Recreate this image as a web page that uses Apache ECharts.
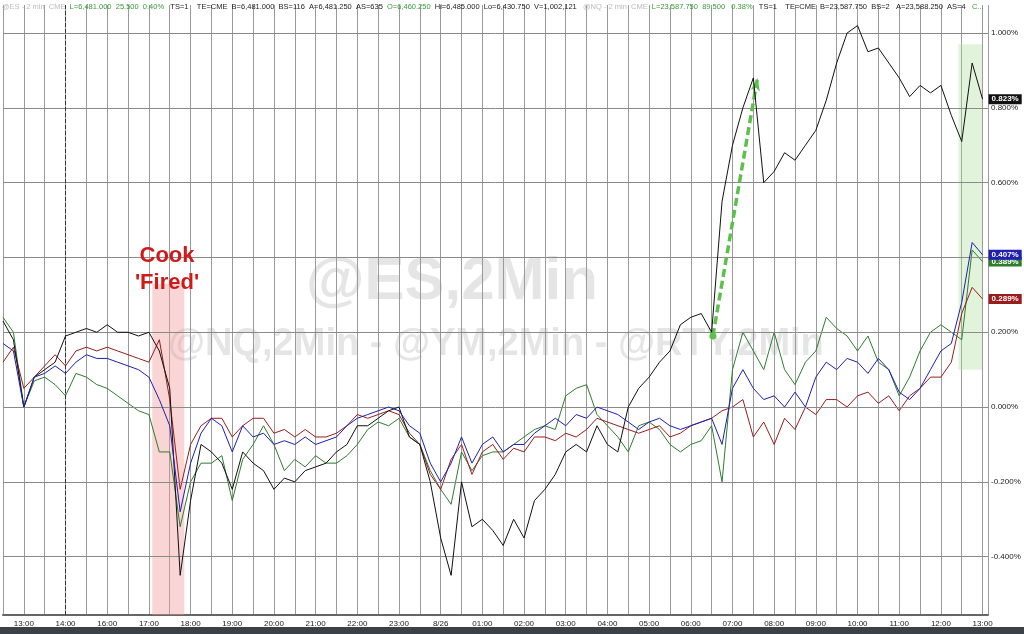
<!DOCTYPE html>
<html>
<head>
<meta charset="utf-8">
<script src="https://cdn.jsdelivr.net/npm/echarts@6/dist/echarts.min.js"></script>
<style>
  html, body { margin: 0; padding: 0; background: #fff; }
  #main { width: 1024px; height: 634px; }
</style>
</head>
<body>
<div id="main"></div>
<script>
// hour slots: 0 = 13:00 ... 23 = 13:00 next day, step 0.25 starting at -0.5
var hourLabels = ['13:00', '14:00', '16:00', '17:00', '18:00', '19:00', '20:00', '21:00', '22:00', '23:00', '8/26',
    '01:00', '02:00', '03:00', '04:00', '05:00', '06:00', '07:00', '08:00', '09:00', '10:00', '11:00', '12:00', '13:00'];
var startSlot = -0.5;
var slotStep = 0.25;
var yTicks = [-0.4, -0.2, 0, 0.2, 0.4, 0.6, 0.8, 1.0];

var blackVals = [0.23, 0.18,
    0.00, 0.08, 0.10, 0.12,
    0.19, 0.20, 0.21, 0.20,
    0.22, 0.20, 0.20, 0.19,
    0.20, 0.15, 0.05, -0.45,
    -0.25, -0.10, -0.12, -0.15,
    -0.22, -0.12, -0.15, -0.17,
    -0.22, -0.19, -0.20, -0.17,
    -0.16, -0.15, -0.12, -0.10,
    -0.05, -0.05, -0.03, -0.01,
    0.00, -0.08, -0.10, -0.20,
    -0.35, -0.45, -0.20, -0.32,
    -0.30, -0.33, -0.37, -0.30,
    -0.35, -0.25, -0.22, -0.18,
    -0.12, -0.10, -0.12, -0.05,
    -0.10, -0.12, 0.00, 0.05,
    0.08, 0.12, 0.15, 0.22,
    0.24, 0.25, 0.20, 0.55,
    0.70, 0.80, 0.88, 0.60,
    0.63, 0.68, 0.66, 0.70,
    0.74, 0.82, 0.92, 1.00,
    1.02, 0.95, 0.96, 0.92,
    0.88, 0.83, 0.86, 0.84,
    0.86, 0.78, 0.71, 0.92,
    0.823];
var blueVals = [0.17, 0.15,
    0.00, 0.08, 0.09, 0.11,
    0.09, 0.12, 0.14, 0.13,
    0.13, 0.12, 0.11, 0.10,
    0.08, 0.02, -0.05, -0.28,
    -0.15, -0.07, -0.03, -0.05,
    -0.12, -0.05, -0.08, -0.07,
    -0.10, -0.09, -0.10, -0.08,
    -0.10, -0.09, -0.08, -0.05,
    -0.03, -0.02, -0.01, 0.00,
    -0.01, -0.05, -0.07, -0.15,
    -0.20, -0.15, -0.08, -0.15,
    -0.10, -0.08, -0.12, -0.10,
    -0.10, -0.07, -0.05, -0.03,
    -0.05, -0.02, -0.03, 0.00,
    -0.01, -0.02, -0.04, -0.06,
    -0.04, -0.03, -0.05, -0.06,
    -0.05, -0.04, -0.03, -0.10,
    0.05, 0.10, 0.05, 0.02,
    0.03, 0.00, 0.04, 0.00,
    0.08, 0.12, 0.10, 0.13,
    0.12, 0.09, 0.13, 0.10,
    0.04, 0.02, 0.05, 0.10,
    0.15, 0.17, 0.28, 0.44,
    0.407];
var greenVals = [0.24, 0.20,
    0.00, 0.07, 0.08, 0.06,
    0.03, 0.09, 0.08, 0.06,
    0.05, 0.03, 0.01, -0.01,
    -0.02, -0.12, -0.12, -0.32,
    -0.20, -0.15, -0.15, -0.13,
    -0.25, -0.14, -0.10, -0.05,
    -0.10, -0.17, -0.14, -0.16,
    -0.13, -0.15, -0.15, -0.13,
    -0.10, -0.06, -0.04, -0.05,
    -0.03, -0.08, -0.10, -0.17,
    -0.22, -0.26, -0.12, -0.17,
    -0.13, -0.12, -0.12, -0.10,
    -0.08, -0.06, -0.05, -0.06,
    0.03, 0.05, 0.06, -0.02,
    -0.05, -0.08, -0.12, -0.05,
    -0.04, -0.06, -0.10, -0.12,
    -0.10, -0.09, -0.05, -0.20,
    0.10, 0.20, 0.15, 0.10,
    0.20, 0.10, 0.06, 0.12,
    0.15, 0.24, 0.21, 0.19,
    0.15, 0.19, 0.12, 0.10,
    0.03, 0.08, 0.15, 0.20,
    0.22, 0.20, 0.18, 0.42,
    0.389];
var redVals = [0.12, 0.16,
    0.05, 0.08, 0.11, 0.14,
    0.11, 0.15, 0.16, 0.15,
    0.16, 0.15, 0.14, 0.13,
    0.12, 0.18, 0.02, -0.22,
    -0.10, -0.05, -0.03, -0.03,
    -0.08, -0.05, -0.03, -0.03,
    -0.07, -0.06, -0.08, -0.06,
    -0.08, -0.08, -0.07, -0.05,
    -0.02, -0.03, -0.02, -0.01,
    -0.02, -0.07, -0.10, -0.18,
    -0.22, -0.14, -0.10, -0.18,
    -0.12, -0.10, -0.14, -0.11,
    -0.12, -0.08, -0.08, -0.09,
    -0.07, -0.08, -0.06, -0.03,
    -0.04, -0.05, -0.06, -0.07,
    -0.06, -0.05, -0.08, -0.07,
    -0.05, -0.04, -0.03, -0.01,
    0.00, 0.02, -0.08, -0.04,
    -0.10, -0.03, -0.06, 0.00,
    -0.02, 0.02, 0.02, 0.00,
    0.03, 0.04, 0.01, 0.03,
    -0.01, 0.03, 0.05, 0.08,
    0.08, 0.12, 0.25, 0.32,
    0.289];

function toPairs(vals) {
    return vals.map(function (v, i) { return [startSlot + i * slotStep, v]; });
}

function lineSeries(name, vals, color, z) {
    return {
        name: name,
        type: 'line',
        data: toPairs(vals),
        showSymbol: false,
        z: z,
        lineStyle: { color: color, width: 1 },
        itemStyle: { color: color },
        silent: true,
        endLabel: {
            show: true,
            formatter: function (p) { return p.value[1].toFixed(3) + '%'; },
            color: '#fff',
            backgroundColor: color,
            fontSize: 8,
            fontWeight: 'bold',
            fontFamily: 'Liberation Sans',
            padding: [1, 3],
            distance: 6
        }
    };
}

var chart = echarts.init(document.getElementById('main'));

var gridLineSeries = {
    type: 'line',
    data: [],
    silent: true,
    markLine: {
        silent: true,
        symbol: 'none',
        lineStyle: { color: '#8a8a8a', width: 1, type: 'solid' },
        label: {
            position: 'end',
            formatter: function (p) { return p.value.toFixed(3) + '%'; },
            fontSize: 8,
            color: '#222',
            fontFamily: 'Liberation Sans',
            distance: 3
        },
        data: yTicks.map(function (v) { return { yAxis: v }; })
    }
};

var option = {
    backgroundColor: '#fff',
    animation: false,
    grid: { left: 0, right: 36, top: 5, bottom: 19 },
    xAxis: {
        type: 'value',
        min: -0.5,
        max: 23.13,
        interval: 0.5,
        axisLine: { onZero: false, lineStyle: { color: '#666', width: 2 } },
        axisTick: { show: false },
        splitLine: { show: true, lineStyle: { color: '#9a9a9a', width: 1 } },
        axisLabel: {
            fontSize: 8,
            color: '#222',
            fontFamily: 'Liberation Sans',
            margin: 5,
            formatter: function (v) {
                if (Math.abs(v - Math.round(v)) > 0.01) return '';
                return hourLabels[Math.round(v)] || '';
            }
        }
    },
    yAxis: {
        type: 'value',
        min: -0.556,
        max: 1.075,
        position: 'right',
        axisLine: { show: false },
        axisTick: { show: false },
        axisLabel: { show: false },
        splitLine: { show: false }
    },
    graphic: [
        {
            type: 'text', left: 306, top: 252, z: 0, silent: true,
            style: { text: '@ES,2Min', font: 'bold 60px "Liberation Sans"', fill: 'rgba(180,180,180,0.35)' }
        },
        {
            type: 'text', left: 168, top: 326, z: 0, silent: true,
            style: { text: '@NQ,2Min - @YM,2Min - @RTY,2Min', font: 'bold 38px "Liberation Sans"', fill: 'rgba(180,180,180,0.35)' }
        },
        {
            type: 'text', x: 167, y: 242, z: 10, silent: true,
            style: { text: "Cook\n'Fired'", font: 'bold 22px "Liberation Sans"', fill: '#d01a1a', align: 'center', lineHeight: 27 }
        },
        {
            type: 'text', left: 2, top: 3, z: 10, silent: true,
            style: {
                text: '{g|@ES - 2 min  CME}  {gr|L=6,481.000  25.500  0.40%}   {k|TS=1    TE=CME  B=6,481.000  BS=116  A=6,481.250  AS=635}  {gr|O=6,460.250}  {k|Hi=6,485.000  Lo=6,430.750  V=1,002,121}   {g|@NQ - 2 min  CME}  {gr|L=23,587.750  89.500   0.38%}   {k|TS=1    TE=CME  B=23,587.750  BS=2   A=23,588.250  AS=4}   {gr|C...}',
                font: '7.5px "Liberation Sans"',
                rich: {
                    g: { fill: '#bbb', font: '7.5px "Liberation Sans"' },
                    gr: { fill: '#3a9a3a', font: '7.5px "Liberation Sans"' },
                    k: { fill: '#222', font: '7.5px "Liberation Sans"' }
                }
            }
        },
        {
            type: 'rect', left: 0, top: 627, z: 10, silent: true,
            shape: { width: 1024, height: 7 }, style: { fill: '#3c4047' }
        }
    ],
    series: [
        gridLineSeries,
        {
            type: 'line',
            data: [],
            silent: true,
            markArea: {
                silent: true,
                itemStyle: { color: 'rgba(240,150,150,0.4)' },
                data: [
                    [{ xAxis: 3.08, yAxis: 0.33 }, { xAxis: 3.85, yAxis: -0.556 }],
                    [{ xAxis: 22.42, yAxis: 0.97, itemStyle: { color: 'rgba(170,220,150,0.35)' } }, { xAxis: 22.99, yAxis: 0.10 }]
                ]
            }
        },
        {
            type: 'line',
            data: [],
            silent: true,
            markLine: {
                silent: true,
                symbol: 'none',
                label: { show: false },
                lineStyle: { color: '#333', type: [4, 2], width: 1 },
                data: [{ xAxis: 1 }]
            }
        },
        lineSeries('RTY', blackVals, '#111111', 5),
        lineSeries('YM', redVals, '#9b1c1c', 4),
        lineSeries('NQ', greenVals, '#2e7d2e', 3),
        lineSeries('ES', blueVals, '#1f1fb0', 6),
        {
            type: 'line',
            data: [],
            silent: true,
            z: 8,
            markLine: {
                silent: true,
                symbol: ['circle', 'arrow'],
                symbolSize: [7, 13],
                label: { show: false },
                lineStyle: { color: '#5cc04a', type: [8, 4], width: 3.5 },
                data: [[{ coord: [16.53, 0.19] }, { coord: [17.6, 0.88] }]]
            }
        }
    ]
};
chart.setOption(option);
</script>
</body>
</html>
